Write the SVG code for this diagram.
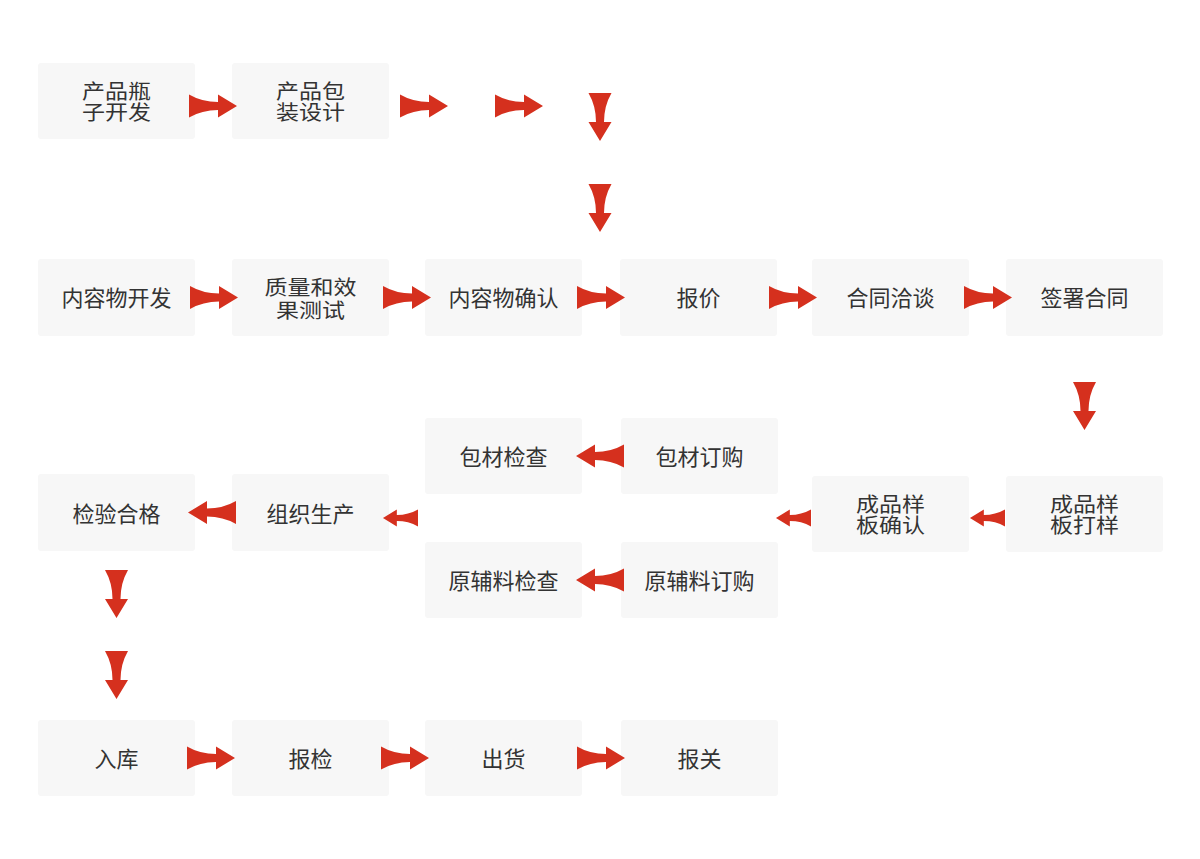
<svg xmlns="http://www.w3.org/2000/svg" xmlns:xlink="http://www.w3.org/1999/xlink" width="1200" height="859" viewBox="0 0 1200 859">
<style>
.box{fill:#f7f7f7;}
.t{font-family:"Noto Sans CJK SC","Noto Sans",sans-serif;font-size:22px;fill:#333333;text-anchor:middle;}
.t2{font-family:"Noto Sans CJK SC","Noto Sans",sans-serif;font-size:20px;fill:#333333;text-anchor:middle;}
.arr{fill:#d5301e;}
</style>
<defs>
<path id="ar" class="arr" d="M0,-11.5 Q13,-4 29,-4 L29,-11.5 L48,0 L29,11.5 L29,4 Q13,4 0,11.5 Z"/>
</defs>
<rect width="1200" height="859" fill="#ffffff"/>
<g id="nodes">
<g id="n1"><rect class="box" x="38" y="63" width="157" height="76" rx="3"/><text class="t2" transform="translate(116.5,98.5) scale(1.15,1)"><tspan x="0" y="0">产品瓶</tspan><tspan x="0" y="21.5">子开发</tspan></text></g>
<g id="n2"><rect class="box" x="232" y="63" width="157" height="76" rx="3"/><text class="t2" transform="translate(310.5,98.5) scale(1.15,1)"><tspan x="0" y="0">产品包</tspan><tspan x="0" y="21.5">装设计</tspan></text></g>

<g id="n3"><rect class="box" x="38" y="259" width="157" height="77" rx="3"/><text class="t" x="116.5" y="306">内容物开发</text></g>
<g id="n4"><rect class="box" x="232" y="259" width="157" height="77" rx="3"/><text class="t2" transform="translate(310.5,295) scale(1.15,1)"><tspan x="0" y="0">质量和效</tspan><tspan x="0" y="22.5">果测试</tspan></text></g>
<g id="n5"><rect class="box" x="425" y="259" width="157" height="77" rx="3"/><text class="t" x="503.5" y="306">内容物确认</text></g>
<g id="n6"><rect class="box" x="620" y="259" width="157" height="77" rx="3"/><text class="t" x="698.5" y="306">报价</text></g>
<g id="n7"><rect class="box" x="812" y="259" width="157" height="77" rx="3"/><text class="t" x="890.5" y="306">合同洽谈</text></g>
<g id="n8"><rect class="box" x="1006" y="259" width="157" height="77" rx="3"/><text class="t" x="1084.5" y="306">签署合同</text></g>

<g id="n9"><rect class="box" x="1006" y="476" width="157" height="76" rx="3"/><text class="t2" transform="translate(1084.5,511.5) scale(1.15,1)"><tspan x="0" y="0">成品样</tspan><tspan x="0" y="21.5">板打样</tspan></text></g>
<g id="n10"><rect class="box" x="812" y="476" width="157" height="76" rx="3"/><text class="t2" transform="translate(890.5,511.5) scale(1.15,1)"><tspan x="0" y="0">成品样</tspan><tspan x="0" y="21.5">板确认</tspan></text></g>
<g id="n11"><rect class="box" x="621" y="418" width="157" height="76" rx="3"/><text class="t" x="699.5" y="464.5">包材订购</text></g>
<g id="n12"><rect class="box" x="425" y="418" width="157" height="76" rx="3"/><text class="t" x="503.5" y="464.5">包材检查</text></g>
<g id="n13"><rect class="box" x="621" y="542" width="157" height="76" rx="3"/><text class="t" x="699.5" y="588.5">原辅料订购</text></g>
<g id="n14"><rect class="box" x="425" y="542" width="157" height="76" rx="3"/><text class="t" x="503.5" y="588.5">原辅料检查</text></g>
<g id="n15"><rect class="box" x="232" y="474" width="157" height="77" rx="3"/><text class="t" x="310.5" y="521.5">组织生产</text></g>
<g id="n16"><rect class="box" x="38" y="474" width="157" height="77" rx="3"/><text class="t" x="116.5" y="521.5">检验合格</text></g>

<g id="n17"><rect class="box" x="38" y="720" width="157" height="76" rx="3"/><text class="t" x="116.5" y="766.5">入库</text></g>
<g id="n18"><rect class="box" x="232" y="720" width="157" height="76" rx="3"/><text class="t" x="310.5" y="766.5">报检</text></g>
<g id="n19"><rect class="box" x="425" y="720" width="157" height="76" rx="3"/><text class="t" x="503.5" y="766.5">出货</text></g>
<g id="n20"><rect class="box" x="621" y="720" width="157" height="76" rx="3"/><text class="t" x="699.5" y="766.5">报关</text></g>
</g>
<g id="connectors">
<use xlink:href="#ar" href="#ar" transform="translate(189,106)"/>
<use xlink:href="#ar" href="#ar" transform="translate(400,106)"/>
<use xlink:href="#ar" href="#ar" transform="translate(495,106)"/>
<use xlink:href="#ar" href="#ar" transform="translate(600,93) rotate(90)"/>
<use xlink:href="#ar" href="#ar" transform="translate(600,184) rotate(90)"/>

<use xlink:href="#ar" href="#ar" transform="translate(190,297.5)"/>
<use xlink:href="#ar" href="#ar" transform="translate(383,297.5)"/>
<use xlink:href="#ar" href="#ar" transform="translate(577,297.5)"/>
<use xlink:href="#ar" href="#ar" transform="translate(769,297.5)"/>
<use xlink:href="#ar" href="#ar" transform="translate(964,297.5)"/>
<use xlink:href="#ar" href="#ar" transform="translate(1084.5,382) rotate(90)"/>

<use xlink:href="#ar" href="#ar" transform="translate(1005,518) scale(-0.73,0.73)"/>
<use xlink:href="#ar" href="#ar" transform="translate(811,518) scale(-0.73,0.73)"/>
<use xlink:href="#ar" href="#ar" transform="translate(624,456) scale(-1,1)"/>
<use xlink:href="#ar" href="#ar" transform="translate(624,580) scale(-1,1)"/>
<use xlink:href="#ar" href="#ar" transform="translate(418,518) scale(-0.73,0.73)"/>
<use xlink:href="#ar" href="#ar" transform="translate(236,512.5) scale(-1,1)"/>
<use xlink:href="#ar" href="#ar" transform="translate(116.5,570) rotate(90)"/>
<use xlink:href="#ar" href="#ar" transform="translate(116.5,651) rotate(90)"/>

<use xlink:href="#ar" href="#ar" transform="translate(187,758)"/>
<use xlink:href="#ar" href="#ar" transform="translate(381,758)"/>
<use xlink:href="#ar" href="#ar" transform="translate(577,758)"/>
</g>
</svg>
